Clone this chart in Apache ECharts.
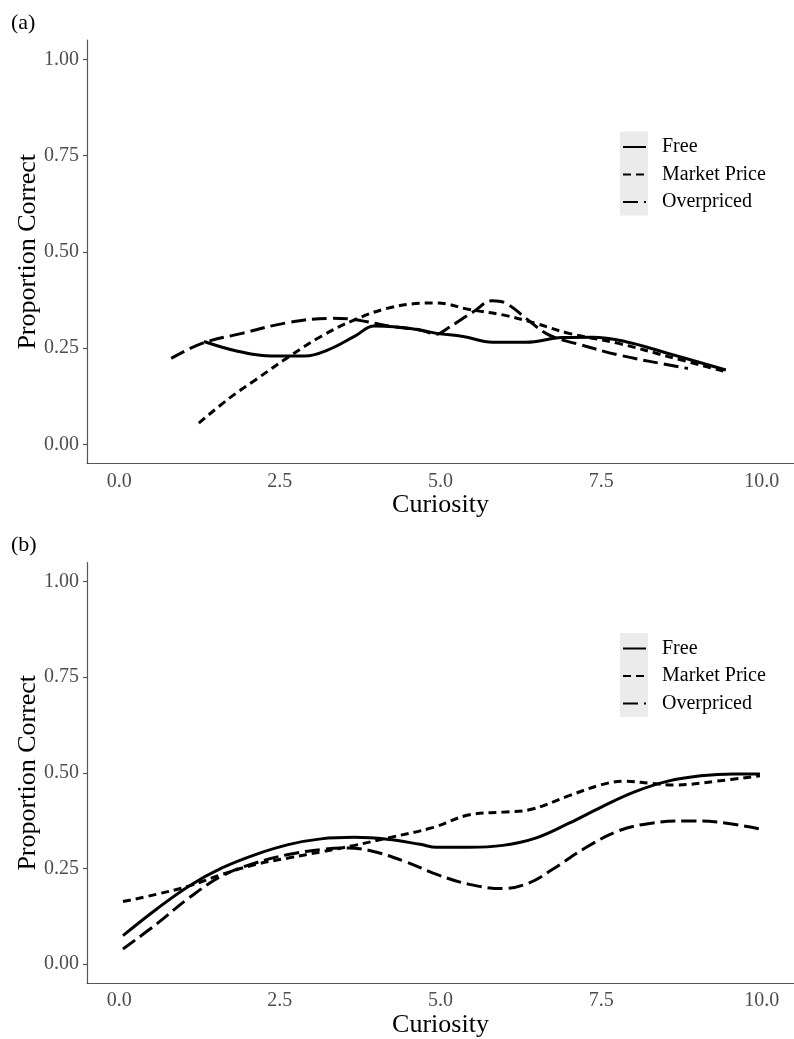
<!DOCTYPE html>
<html>
<head>
<meta charset="utf-8">
<script src="https://cdn.jsdelivr.net/npm/echarts@6/dist/echarts.min.js"></script>
<style>
  html, body { margin: 0; padding: 0; background: #fff; }
  #chart { width: 794px; height: 1039px; }
</style>
</head>
<body>
<div id="chart"></div>
<script>
// Series names and axis ticks
const seriesNames = ['Free', 'Market Price', 'Overpriced'];
const xTicks = [0, 2.5, 5, 7.5, 10];
const yTicks = [0, 0.25, 0.5, 0.75, 1];

// Panel (a): smoothed proportion correct by curiosity
const aFreeX = [1.32, 1.86, 2.37, 2.89, 3.25, 3.66, 3.97, 4.27, 4.68, 4.94, 5.35, 5.81, 6.33, 6.89, 7.36, 7.87, 8.54, 9.44];
const aFreeY = [0.267, 0.241, 0.229, 0.229, 0.245, 0.280, 0.307, 0.305, 0.297, 0.288, 0.280, 0.265, 0.265, 0.277, 0.278, 0.267, 0.236, 0.193];
const aMarketX = [1.24, 1.71, 2.12, 2.63, 3.14, 3.66, 4.17, 4.68, 4.94, 5.45, 5.97, 6.48, 7.0, 7.77, 8.54, 9.4];
const aMarketY = [0.055, 0.119, 0.167, 0.226, 0.280, 0.323, 0.353, 0.366, 0.367, 0.350, 0.336, 0.314, 0.288, 0.262, 0.228, 0.190];
const aOverX = [0.81, 1.29, 1.91, 2.63, 3.30, 3.61, 3.86, 4.27, 4.68, 4.94, 5.10, 5.51, 5.81, 6.02, 6.33, 6.64, 6.89, 7.10, 7.77, 8.74, 8.85];
const aOverY = [0.223, 0.262, 0.288, 0.316, 0.327, 0.325, 0.318, 0.305, 0.297, 0.286, 0.300, 0.344, 0.373, 0.366, 0.327, 0.288, 0.271, 0.262, 0.232, 0.200, 0.197];

// Panel (b)
const bFreeX = [0.06, 0.58, 1.09, 1.60, 2.12, 2.63, 3.14, 3.66, 4.17, 4.68, 4.94, 5.45, 5.97, 6.48, 7.0, 7.51, 8.02, 8.54, 9.05, 9.56, 9.97];
const bFreeY = [0.074, 0.143, 0.204, 0.251, 0.286, 0.312, 0.327, 0.331, 0.326, 0.313, 0.305, 0.305, 0.310, 0.329, 0.368, 0.411, 0.450, 0.478, 0.492, 0.497, 0.497];
const bMarketX = [0.06, 0.58, 1.09, 1.60, 2.12, 2.63, 3.14, 3.66, 4.17, 4.89, 5.45, 5.97, 6.38, 7.0, 7.51, 7.87, 8.28, 8.64, 9.30, 9.97];
const bMarketY = [0.163, 0.182, 0.204, 0.234, 0.260, 0.277, 0.293, 0.310, 0.329, 0.357, 0.390, 0.397, 0.403, 0.440, 0.469, 0.478, 0.472, 0.468, 0.478, 0.492];
const bOverX = [0.06, 0.58, 1.09, 1.60, 2.12, 2.63, 3.14, 3.55, 3.91, 4.43, 4.94, 5.45, 5.97, 6.38, 6.74, 7.25, 7.77, 8.28, 8.79, 9.30, 9.97];
const bOverY = [0.039, 0.104, 0.173, 0.230, 0.264, 0.286, 0.299, 0.303, 0.296, 0.269, 0.234, 0.208, 0.197, 0.212, 0.247, 0.303, 0.348, 0.368, 0.374, 0.371, 0.353];

const FONT = "'Liberation Serif', 'Times New Roman', serif";
const zip = (xs, ys) => xs.map((x, i) => [x, ys[i]]);

const lineStyles = {
  'Free': { type: 'solid' },
  'Market Price': { type: [8, 5] },
  'Overpriced': { type: [15, 6] }
};

function makeSeries(name, idx, xs, ys) {
  return {
    name: name,
    type: 'line',
    xAxisIndex: idx,
    yAxisIndex: idx,
    data: zip(xs, ys),
    showSymbol: false,
    symbol: 'none',
    smooth: 0.4,
    lineStyle: { color: '#000', width: 3, type: lineStyles[name].type, cap: 'butt' },
    itemStyle: { color: '#000' },
    emphasis: { disabled: true },
    z: 3
  };
}

const panelTop = [40, 562.5];
const panelHeight = 423.5;
const legendTop = [137, 638.5];
const keyBox = [[620, 131.5, 28, 84], [620, 633, 28, 84]];

function xAxisFor(idx) {
  return {
    type: 'value', gridIndex: idx, min: -0.5, max: 10.5,
    name: 'Curiosity', nameLocation: 'middle', nameGap: 29, nameMoveOverlap: false,
    nameTextStyle: { fontFamily: FONT, fontSize: 26, color: '#000' },
    axisLine: { show: true, onZero: false, lineStyle: { color: '#555', width: 1.2 } },
    axisTick: { show: false, customValues: xTicks },
    splitLine: { show: false },
    axisLabel: {
      customValues: xTicks, margin: 8,
      fontFamily: FONT, fontSize: 20, color: '#4d4d4d',
      formatter: v => v.toFixed(1)
    }
  };
}

function yAxisFor(idx) {
  return {
    type: 'value', gridIndex: idx, min: -0.05, max: 1.05,
    name: 'Proportion Correct', nameLocation: 'middle', nameGap: 46, nameRotate: 90, nameMoveOverlap: false,
    nameTextStyle: { fontFamily: FONT, fontSize: 26, color: '#000' },
    axisLine: { show: true, onZero: false, lineStyle: { color: '#555', width: 1.2 } },
    axisTick: { show: true, customValues: yTicks, length: 4, lineStyle: { color: '#555', width: 1.2 } },
    splitLine: { show: false },
    axisLabel: {
      customValues: yTicks, margin: 8,
      fontFamily: FONT, fontSize: 20, color: '#4d4d4d',
      formatter: v => v.toFixed(2)
    }
  };
}

function legendFor(idx) {
  return {
    orient: 'vertical', left: 622, top: legendTop[idx], padding: 0,
    itemWidth: 23, itemHeight: 14, itemGap: 7.5,
    data: seriesNames, selectedMode: false,
    itemStyle: { opacity: 0 },
    textStyle: { fontFamily: FONT, fontSize: 20, color: '#000', padding: [0, 0, 0, 11] }
  };
}

const option = {
  animation: false,
  backgroundColor: '#fff',
  title: [
    { text: '(a)', left: 6, top: 7, textStyle: { fontFamily: FONT, fontSize: 22, fontWeight: 'normal', color: '#000' } },
    { text: '(b)', left: 6, top: 529, textStyle: { fontFamily: FONT, fontSize: 22, fontWeight: 'normal', color: '#000' } }
  ],
  grid: [
    { left: 87, top: panelTop[0], width: 714, height: panelHeight },
    { left: 87, top: panelTop[1], width: 714, height: panelHeight }
  ],
  xAxis: [xAxisFor(0), xAxisFor(1)],
  yAxis: [yAxisFor(0), yAxisFor(1)],
  legend: [legendFor(0), legendFor(1)],
  graphic: keyBox.map(b => ({
    type: 'rect', z: -1, silent: true,
    shape: { x: b[0], y: b[1], width: b[2], height: b[3] },
    style: { fill: '#ebebeb' }
  })),
  series: [
    makeSeries('Free', 0, aFreeX, aFreeY),
    makeSeries('Market Price', 0, aMarketX, aMarketY),
    makeSeries('Overpriced', 0, aOverX, aOverY),
    makeSeries('Free', 1, bFreeX, bFreeY),
    makeSeries('Market Price', 1, bMarketX, bMarketY),
    makeSeries('Overpriced', 1, bOverX, bOverY)
  ]
};

const chart = echarts.init(document.getElementById('chart'), null, { renderer: 'canvas' });
chart.setOption(option);
</script>
</body>
</html>
